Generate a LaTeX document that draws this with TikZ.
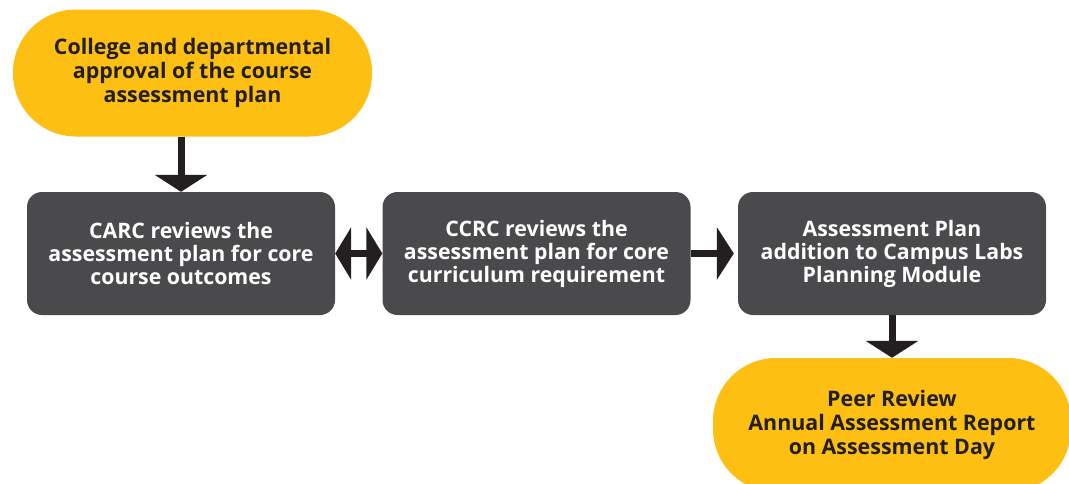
\documentclass[tikz,border=0pt]{standalone}
\usepackage{fontspec}
\setmainfont{Open Sans}
\usetikzlibrary{arrows.meta,calc}
\definecolor{gold}{HTML}{FDBF12}
\definecolor{slate}{HTML}{4A4A4C}
\definecolor{ink}{HTML}{231F20}
\tikzset{
  pill/.style={rectangle, rounded corners=63pt, fill=gold, text=ink, align=center,
    minimum width=359pt, minimum height=127pt, inner sep=0pt,
    font=\fontsize{21.4pt}{24pt}\selectfont\bfseries},
  stepbox/.style={rectangle, rounded corners=15pt, fill=slate, text=white, align=center,
    minimum width=308pt, minimum height=123pt, inner sep=0pt,
    font=\fontsize{21.3pt}{23pt}\selectfont\bfseries},
  flow/.style={draw=ink, line width=7pt, -{Triangle[length=17pt,width=52pt]}},
  bothflow/.style={draw=ink, line width=7pt, {Triangle[length=16pt,width=52pt]}-{Triangle[length=16pt,width=52pt]}},
}
\begin{document}
\begin{tikzpicture}[x=1pt,y=-1pt]
\useasboundingbox (0,0) rectangle (1069,483);
\clip (0,0) rectangle (1069,483);
\fill[white] (0,0) rectangle (1069,483);
\node[pill] (top) at (192.5,73) {College and departmental\\approval of the course\\assessment plan};
\node[stepbox] (b1) at (181,253.5) {CARC reviews the\\assessment plan for core\\course outcomes};
\node[stepbox] (b2) at (536.5,253.5) {CCRC reviews the\\assessment plan for core\\curriculum requirement};
\node[stepbox] (b3) at (892,253.5) {Assessment Plan\\addition to Campus Labs\\Planning Module};
\node[pill, minimum width=358pt, minimum height=134pt] (bot) at (892,425) {Peer Review\\Annual Assessment Report\\on Assessment Day};
\draw[flow] (top.south -| b1.north) -- (b1.north);
\draw[bothflow] (b1.east) -- (b2.west);
\draw[flow, shorten >=4pt] (b2.east) -- (b3.west);
\draw[flow] (b3.south) -- (bot.north);
\end{tikzpicture}
\end{document}
